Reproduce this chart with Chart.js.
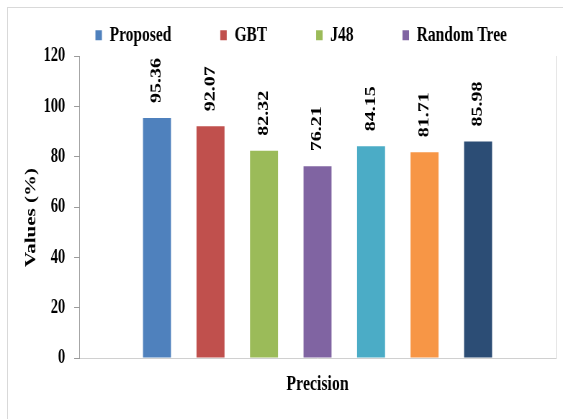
<!DOCTYPE html>
<html>
<head>
<meta charset="utf-8">
<script src="https://cdn.jsdelivr.net/npm/chart.js@4/dist/chart.umd.min.js"></script>
<style>
  html, body { margin: 0; padding: 0; background: #ffffff; overflow: hidden; width: 563px; height: 419px; }
  #frame { position: absolute; left: 7px; top: 7px; width: 600px; height: 430px; border: 1px solid #d9d9d9; box-sizing: border-box; }
  #wrap { position: absolute; left: 0; top: 0; width: 782px; height: 419px; transform-origin: 0 0; }
</style>
</head>
<body>
<div id="frame"></div>
<div id="wrap"><canvas id="chart" width="782" height="419"></canvas></div>
<script>
// Horizontal squeeze of the whole drawing (narrow, tall lettering)
const SQUEEZE = 0.72;

const categories = ['Precision'];
const methods = ['Proposed', 'GBT', 'J48', 'Random Tree', 'Method 5', 'Method 6', 'Method 7'];
const precision = [95.36, 92.07, 82.32, 76.21, 84.15, 81.71, 85.98];
const colors = ['#4F81BD', '#C0504D', '#9BBB59', '#8064A2', '#4BACC6', '#F79646', '#2C4D75'];
const yTicks = { min: 0, max: 120, step: 20 };
const legendCount = 4;

document.getElementById('wrap').style.transform = 'scaleX(' + SQUEEZE + ')';

const serif = '"Liberation Serif", "Times New Roman", serif';

// value written vertically above each bar
const valueLabels = {
  id: 'valueLabels',
  afterDatasetsDraw(chart) {
    const ctx = chart.ctx;
    chart.data.datasets.forEach((ds, i) => {
      const meta = chart.getDatasetMeta(i);
      meta.data.forEach((bar, j) => {
        ctx.save();
        ctx.translate(bar.x, bar.y - 15);
        ctx.rotate(-Math.PI / 2);
        ctx.font = 'bold 20px ' + serif;
        ctx.fillStyle = '#000000';
        ctx.textAlign = 'left';
        ctx.textBaseline = 'middle';
        ctx.fillText(ds.data[j].toFixed(2), 0, 0);
        ctx.restore();
      });
    });
  }
};

// thin line closing the plot area on the right
const plotEdge = {
  id: 'plotEdge',
  beforeDatasetsDraw(chart) {
    const { ctx, chartArea } = chart;
    ctx.save();
    ctx.strokeStyle = '#d9d9d9';
    ctx.lineWidth = 1;
    ctx.beginPath();
    ctx.moveTo(Math.round(chartArea.right) + 0.5, chartArea.top);
    ctx.lineTo(Math.round(chartArea.right) + 0.5, chartArea.bottom);
    ctx.stroke();
    ctx.restore();
  }
};

new Chart(document.getElementById('chart'), {
  type: 'bar',
  data: {
    labels: categories,
    datasets: methods.map((m, i) => ({
      label: m,
      data: [precision[i]],
      backgroundColor: colors[i],
      borderWidth: 0,
      categoryPercentage: 0.786,
      barPercentage: 0.523
    }))
  },
  options: {
    responsive: false,
    devicePixelRatio: 1,
    animation: false,
    layout: { padding: { left: 5, right: 10, top: -43.5, bottom: 9 } },
    plugins: {
      tooltip: { enabled: false },
      legend: {
        position: 'top',
        align: 'end',
        labels: {
          filter: (item) => item.datasetIndex < legendCount,
          boxWidth: 9,
          boxHeight: 10,
          padding: 68,
          color: '#000000',
          font: { family: serif, size: 21.5, weight: 'bold' }
        }
      }
    },
    scales: {
      x: {
        grid: { display: false, drawTicks: false },
        border: { display: true, color: '#d0d0d0' },
        ticks: {
          padding: 12.8,
          color: '#000000',
          font: { family: serif, size: 22, weight: 'bold' }
        }
      },
      y: {
        min: yTicks.min,
        max: yTicks.max,
        grid: { display: true, drawOnChartArea: false, drawTicks: true, tickLength: 7, color: '#9a9a9a' },
        border: { display: true, color: '#9a9a9a' },
        ticks: {
          stepSize: yTicks.step,
          padding: 12.5,
          color: '#000000',
          font: { family: serif, size: 20, weight: 'bold' }
        },
        title: {
          display: true,
          // trailing spaces keep the title a little below the axis middle
          text: 'Values (%)    ',
          color: '#000000',
          padding: { top: 26, bottom: -8.2 },
          font: { family: serif, size: 21, weight: 'bold' }
        }
      }
    }
  },
  plugins: [valueLabels, plotEdge]
});
</script>
</body>
</html>
